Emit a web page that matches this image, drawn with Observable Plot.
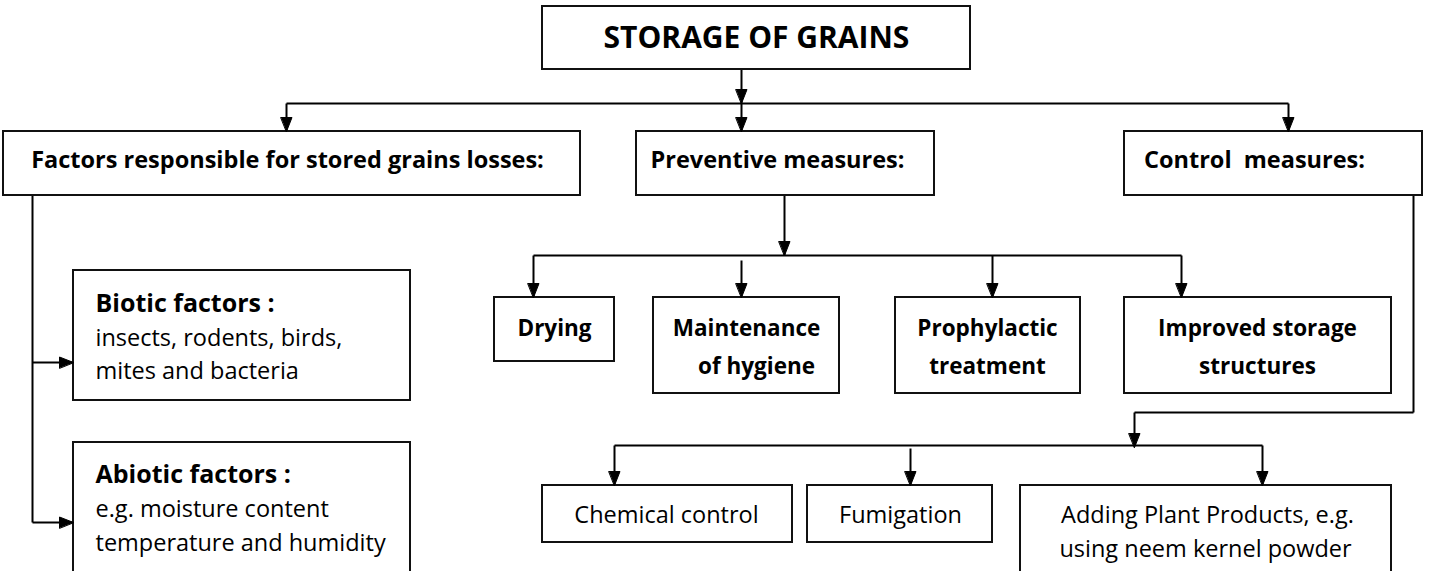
<!DOCTYPE html>
<html>
<head>
<meta charset="utf-8">
<script src="https://cdn.jsdelivr.net/npm/d3@7"></script>
<script src="https://cdn.jsdelivr.net/npm/@observablehq/plot@0.6"></script>
<style>
  html, body { margin: 0; padding: 0; background: #fff; }
  #chart svg { display: block; }
</style>
</head>
<body>
<div id="chart"></div>
<script>
// ---- Diagram content ----
const boxes = [
  {name: "Storage of grains", x1: 542, x2: 970, y1: 6, y2: 69},
  {name: "Factors", x1: 3, x2: 580, y1: 131, y2: 195},
  {name: "Preventive", x1: 636, x2: 934, y1: 131, y2: 195},
  {name: "Control", x1: 1124, x2: 1422, y1: 131, y2: 195},
  {name: "Biotic", x1: 73, x2: 410, y1: 270, y2: 400},
  {name: "Abiotic", x1: 73, x2: 410, y1: 442, y2: 580},
  {name: "Drying", x1: 494, x2: 614, y1: 297, y2: 361},
  {name: "Maintenance", x1: 653, x2: 839, y1: 297, y2: 393},
  {name: "Prophylactic", x1: 895, x2: 1080, y1: 297, y2: 393},
  {name: "Improved", x1: 1124, x2: 1391, y1: 297, y2: 393},
  {name: "Chemical", x1: 542, x2: 792, y1: 485, y2: 542},
  {name: "Fumigation", x1: 807, x2: 992, y1: 485, y2: 542},
  {name: "Adding", x1: 1020, x2: 1391, y1: 485, y2: 580}
];

const titleLabels = [
  {text: "STORAGE OF GRAINS", x: 756, y: 38}
];

const headerLabels = [
  {text: "Factors responsible for stored grains losses:", x: 287, y: 160},
  {text: "Preventive measures:", x: 777, y: 160},
  {text: "Control  measures:", x: 1254, y: 160}
];

const boxLabels = [
  {text: "Drying", x: 554, y: 328},
  {text: "Maintenance", x: 746, y: 328},
  {text: "of hygiene", x: 756, y: 366},
  {text: "Prophylactic", x: 987, y: 328},
  {text: "treatment", x: 987, y: 366},
  {text: "Improved storage", x: 1257, y: 328},
  {text: "structures", x: 1257, y: 366}
];

const boldLeft = [
  {text: "Biotic factors :", x: 95, y: 303},
  {text: "Abiotic factors :", x: 95, y: 474}
];

const normalLeft = [
  {text: "insects, rodents, birds,", x: 95, y: 338},
  {text: "mites and bacteria", x: 95, y: 371},
  {text: "e.g. moisture content", x: 95, y: 509},
  {text: "temperature and humidity", x: 95, y: 543}
];

const normalCentered = [
  {text: "Chemical control", x: 666, y: 515},
  {text: "Fumigation", x: 900, y: 515},
  {text: "Adding Plant Products, e.g.", x: 1207, y: 515},
  {text: "using neem kernel powder", x: 1205, y: 549}
];

// connector segments
const connectors = [
  {x1: 741, y1: 69, x2: 741, y2: 103},
  {x1: 286, y1: 103, x2: 1288, y2: 103},
  {x1: 286, y1: 103, x2: 286, y2: 131},
  {x1: 741, y1: 103, x2: 741, y2: 131},
  {x1: 1288, y1: 103, x2: 1288, y2: 131},
  {x1: 32, y1: 195, x2: 32, y2: 522},
  {x1: 32, y1: 362, x2: 73, y2: 362},
  {x1: 32, y1: 522, x2: 73, y2: 522},
  {x1: 784, y1: 195, x2: 784, y2: 255},
  {x1: 533, y1: 255, x2: 1181, y2: 255},
  {x1: 533, y1: 255, x2: 533, y2: 297},
  {x1: 741, y1: 260, x2: 741, y2: 297},
  {x1: 992, y1: 255, x2: 992, y2: 297},
  {x1: 1181, y1: 255, x2: 1181, y2: 297},
  {x1: 1413, y1: 195, x2: 1413, y2: 412},
  {x1: 1413, y1: 412, x2: 1134, y2: 412},
  {x1: 1134, y1: 412, x2: 1134, y2: 445},
  {x1: 614, y1: 445, x2: 1262, y2: 445},
  {x1: 614, y1: 445, x2: 614, y2: 485},
  {x1: 910, y1: 448, x2: 910, y2: 485},
  {x1: 1262, y1: 445, x2: 1262, y2: 485}
];

// arrowhead tips: direction in degrees (0 = up, 90 = right, 180 = down)
const arrowheads = [
  {x: 741, y: 103, dir: 180},
  {x: 286, y: 131, dir: 180},
  {x: 741, y: 131, dir: 180},
  {x: 1288, y: 131, dir: 180},
  {x: 73, y: 362, dir: 90},
  {x: 73, y: 522, dir: 90},
  {x: 784, y: 255, dir: 180},
  {x: 533, y: 297, dir: 180},
  {x: 741, y: 297, dir: 180},
  {x: 992, y: 297, dir: 180},
  {x: 1181, y: 297, dir: 180},
  {x: 1134, y: 447, dir: 180},
  {x: 614, y: 485, dir: 180},
  {x: 910, y: 485, dir: 180},
  {x: 1262, y: 485, dir: 180}
];

// ---- Rendering ----
const W = 1429, H = 571;
const FONT = "'Open Sans', 'Noto Sans', sans-serif";

const triangle = {
  draw(context, l) {
    context.moveTo(0, -l);
    context.lineTo(-5.5, 0);
    context.lineTo(5.5, 0);
    context.closePath();
  }
};

const textOpts = {x: "x", y: "y", text: "text", fontFamily: FONT, fill: "#000", lineAnchor: "middle"};

const chart = Plot.plot({
  width: W,
  height: H,
  margin: 0,
  x: {domain: [0, W], range: [0, W], axis: null},
  y: {domain: [0, H], range: [0, H], axis: null},
  style: {background: "#fff"},
  marks: [
    Plot.link(connectors, {x1: "x1", y1: "y1", x2: "x2", y2: "y2", stroke: "#000", strokeWidth: 2}),
    Plot.rect(boxes, {x1: "x1", x2: "x2", y1: "y1", y2: "y2", fill: "#fff", stroke: "#111", strokeWidth: 2}),
    Plot.vector(arrowheads, {x: "x", y: "y", rotate: "dir", length: 14, anchor: "end", shape: triangle, fill: "#000", stroke: "#000", strokeWidth: 1}),
    Plot.text(titleLabels, {...textOpts, fontWeight: "bold", fontSize: 30, textAnchor: "middle"}),
    Plot.text(headerLabels, {...textOpts, fontWeight: "bold", fontSize: 23.5, textAnchor: "middle"}),
    Plot.text(boxLabels, {...textOpts, fontWeight: "bold", fontSize: 22.5, textAnchor: "middle"}),
    Plot.text(boldLeft, {...textOpts, fontWeight: "bold", fontSize: 25, textAnchor: "start"}),
    Plot.text(normalLeft, {...textOpts, fontSize: 23.5, textAnchor: "start"}),
    Plot.text(normalCentered, {...textOpts, fontSize: 23.5, textAnchor: "middle"})
  ]
});

document.getElementById("chart").appendChild(chart);
</script>
</body>
</html>
